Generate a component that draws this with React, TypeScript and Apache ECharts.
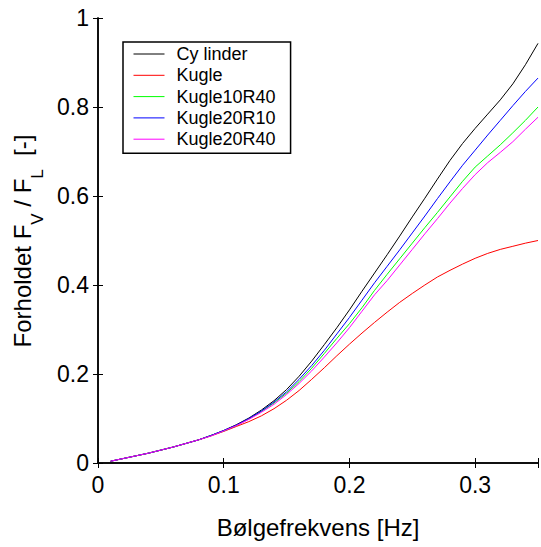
import { useEffect, useRef } from "react";
import * as echarts from "echarts";

const freq = [0.01, 0.02, 0.03, 0.04, 0.05, 0.06, 0.07, 0.08, 0.09, 0.1, 0.11, 0.12, 0.13, 0.14, 0.15, 0.16, 0.17, 0.18, 0.19, 0.2, 0.21, 0.22, 0.23, 0.24, 0.25, 0.26, 0.27, 0.28, 0.29, 0.3, 0.31, 0.32, 0.33, 0.34, 0.35];

const cylinder = [0.004, 0.010, 0.016, 0.022, 0.029, 0.036, 0.044, 0.052, 0.062, 0.073, 0.086, 0.101, 0.119, 0.140, 0.165, 0.195, 0.229, 0.266, 0.304, 0.344, 0.386, 0.427, 0.468, 0.510, 0.553, 0.595, 0.638, 0.680, 0.718, 0.752, 0.784, 0.816, 0.852, 0.895, 0.943];
const kugle = [0.004, 0.010, 0.016, 0.022, 0.029, 0.036, 0.044, 0.052, 0.061, 0.071, 0.082, 0.093, 0.106, 0.122, 0.141, 0.163, 0.188, 0.214, 0.241, 0.267, 0.292, 0.316, 0.339, 0.361, 0.381, 0.400, 0.418, 0.433, 0.447, 0.460, 0.471, 0.480, 0.487, 0.494, 0.500];
const kugle10R40 = [0.004, 0.010, 0.016, 0.022, 0.029, 0.036, 0.044, 0.052, 0.062, 0.072, 0.084, 0.099, 0.116, 0.135, 0.157, 0.183, 0.213, 0.246, 0.280, 0.313, 0.349, 0.388, 0.424, 0.459, 0.494, 0.529, 0.563, 0.598, 0.633, 0.665, 0.690, 0.715, 0.742, 0.770, 0.800];
const kugle20R10 = [0.004, 0.010, 0.016, 0.022, 0.029, 0.036, 0.044, 0.052, 0.062, 0.073, 0.085, 0.100, 0.117, 0.137, 0.160, 0.188, 0.219, 0.253, 0.290, 0.327, 0.366, 0.405, 0.442, 0.479, 0.517, 0.555, 0.594, 0.632, 0.669, 0.703, 0.737, 0.770, 0.803, 0.835, 0.865];
const kugle20R40 = [0.004, 0.010, 0.016, 0.022, 0.029, 0.036, 0.044, 0.052, 0.061, 0.072, 0.084, 0.098, 0.114, 0.132, 0.154, 0.179, 0.207, 0.238, 0.270, 0.304, 0.341, 0.378, 0.410, 0.445, 0.480, 0.515, 0.549, 0.584, 0.617, 0.648, 0.675, 0.698, 0.722, 0.750, 0.777];

const seriesNames = ["Cy linder", "Kugle", "Kugle10R40", "Kugle20R10", "Kugle20R40"];
const seriesValues = [cylinder, kugle, kugle10R40, kugle20R10, kugle20R40];
const seriesColors = ["#000000", "#ff0000", "#00ff00", "#0000ff", "#ff00ff"];

const xTitle = "Bølgefrekvens [Hz]";
const FONT = '"Liberation Sans", Arial, sans-serif';

function measure(text: string, size: number): number {
  const c = document.createElement("canvas").getContext("2d");
  if (!c) return text.length * size * 0.55;
  c.font = `${size}px ${FONT}`;
  return c.measureText(text).width;
}

function yTitleGraphic() {
  const main = 24;
  const sub = 17;
  const subDy = 15;
  const parts: { t: string; size: number; dy: number; gapBefore: number }[] = [
    { t: "Forholdet F", size: main, dy: 0, gapBefore: 0 },
    { t: "V", size: sub, dy: subDy, gapBefore: 0 },
    { t: "/ F", size: main, dy: 0, gapBefore: measure(" ", main) },
    { t: "L", size: sub, dy: subDy, gapBefore: 0 },
    { t: "[-]", size: main, dy: 0, gapBefore: measure("  ", main) },
  ];
  let total = 0;
  const offs: number[] = [];
  parts.forEach((p) => {
    total += p.gapBefore;
    offs.push(total);
    total += measure(p.t, p.size);
  });
  const start = -total / 2;
  return {
    type: "group",
    x: 22,
    y: 241,
    rotation: Math.PI / 2,
    children: parts.map((p, i) => ({
      type: "text",
      x: start + offs[i],
      y: p.dy,
      style: {
        text: p.t,
        fontSize: p.size,
        fontFamily: FONT,
        fill: "#000",
        align: "left",
        verticalAlign: "middle",
      },
    })),
  };
}

export default function App() {
  const ref = useRef<HTMLDivElement>(null);
  useEffect(() => {
    if (!ref.current) return;
    const chart = echarts.init(ref.current, undefined, { renderer: "svg" });
    const axisLine = { show: true, lineStyle: { color: "#000", width: 1.5 } };
    const axisTick = { show: true, inside: true, length: 5, lineStyle: { color: "#000", width: 1 } };
    chart.setOption({
      animation: false,
      backgroundColor: "#fff",
      textStyle: { fontFamily: FONT },
      grid: { left: 98, top: 18, width: 444, height: 445, containLabel: false },
      xAxis: [
        {
          type: "value",
          min: 0,
          max: 0.35,
          interval: 0.1,
          position: "bottom",
          axisLine,
          axisTick,
          splitLine: { show: false },
          axisLabel: {
            fontSize: 23,
            color: "#000",
            fontFamily: FONT,
            margin: 10,
            formatter: (v: number) => (Math.abs(v - 0.35) < 1e-6 ? "" : String(+v.toFixed(2))),
          },
          name: xTitle,
          nameLocation: "middle",
          nameGap: 52,
          nameTextStyle: { fontSize: 24, color: "#000", fontFamily: FONT },
        },
        {
          type: "value",
          min: 0,
          max: 0.35,
          interval: 0.1,
          position: "top",
          axisLine,
          axisTick,
          splitLine: { show: false },
          axisLabel: { show: false },
        },
      ],
      yAxis: [
        {
          type: "value",
          min: 0,
          max: 1,
          interval: 0.2,
          position: "left",
          axisLine,
          axisTick,
          splitLine: { show: false },
          axisLabel: {
            fontSize: 23,
            color: "#000",
            fontFamily: FONT,
            margin: 9,
            formatter: (v: number) => String(+v.toFixed(2)),
          },
        },
        {
          type: "value",
          min: 0,
          max: 1,
          interval: 0.2,
          position: "right",
          axisLine,
          axisTick,
          splitLine: { show: false },
          axisLabel: { show: false },
        },
      ],
      legend: {
        orient: "vertical",
        left: 123,
        top: 42,
        itemWidth: 31,
        itemHeight: 18,
        itemGap: 3.3,
        padding: [3, 15, 5, 10],
        borderColor: "#000",
        borderWidth: 1.5,
        borderRadius: 0,
        backgroundColor: "#fff",
        itemStyle: { opacity: 0, borderWidth: 0 },
        lineStyle: { width: 1 },
        textStyle: { fontSize: 18, color: "#000", fontFamily: FONT, padding: [0, 0, 0, 7], lineHeight: 18 },
        data: seriesNames,
      },
      graphic: [yTitleGraphic()],
      series: seriesNames.map((name, i) => ({
        name,
        type: "line",
        xAxisIndex: 0,
        yAxisIndex: 0,
        symbol: "none",
        showSymbol: false,
        smooth: false,
        color: seriesColors[i],
        lineStyle: { color: seriesColors[i], width: 1 },
        data: freq.map((f, j) => [f, seriesValues[i][j]]),
      })),
    });
    return () => chart.dispose();
  }, []);
  return (
    <div
      ref={ref}
      style={{ position: "absolute", left: 0, top: 0, width: 541, height: 547 }}
    />
  );
}
